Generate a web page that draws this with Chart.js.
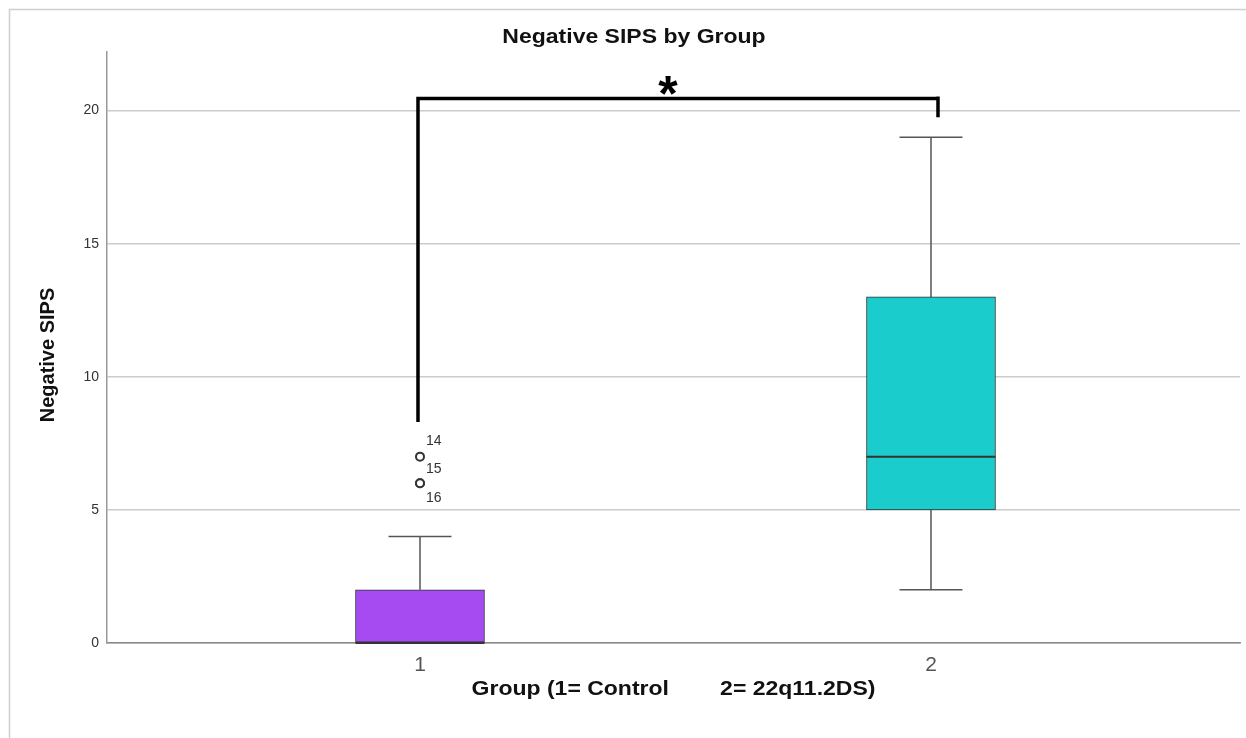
<!DOCTYPE html>
<html>
<head>
<meta charset="utf-8">
<script src="https://cdn.jsdelivr.net/npm/chart.js@4"></script>
<style>
  html, body { margin: 0; padding: 0; background: #fff; }
  #wrap { width: 1246px; height: 738px; position: relative; }
</style>
</head>
<body>
<div id="wrap"><canvas id="boxChart" width="1246" height="738"></canvas></div>
<script>
    // Data
    const groups = [1, 2];
    const groupLabels = ['1', '2'];
    const q1 = [0, 5];
    const medians = [0, 7];
    const q3 = [2, 13];
    const whiskerLow = [0, 2];
    const whiskerHigh = [4, 19];
    const outlierGroup = [1, 1, 1];
    const outlierValues = [7, 6, 6];
    const outlierIds = ['14', '15', '16'];
    const yTicks = [0, 5, 10, 15, 20];
    const boxColors = ['#A64AF2', '#1ACCCC'];

    const chartTitle = 'Negative SIPS by Group';
    const xTitle = 'Group (1= Control        2= 22q11.2DS)';
    const yTitle = 'Negative SIPS';

    // significance bracket (group 1 vs group 2)
    const bracketLeftBottom = 8.3;
    const bracketTop = 20.45;
    const bracketRightBottom = 19.75;

    const FONT = '"Liberation Sans", Arial, sans-serif';
    const STRETCH = 1.15; // the reference text is a bit wider than Arial

    // label offsets (px) for the outlier case numbers
    const idOffsets = [[6, -16], [6, -14], [6, 15]];

    function stretchedText(ctx, text, x, y) {
        ctx.save();
        ctx.translate(x, y);
        ctx.scale(STRETCH, 1);
        ctx.fillText(text, 0, 0);
        ctx.restore();
    }

    const extrasPlugin = {
        id: 'boxExtras',
        beforeDraw(chart) {
            const ctx = chart.ctx;
            ctx.save();
            ctx.fillStyle = '#fff';
            ctx.fillRect(0, 0, chart.width, chart.height);
            // frame of the figure
            ctx.strokeStyle = '#cfcfcf';
            ctx.lineWidth = 1.5;
            ctx.beginPath();
            ctx.moveTo(9.5, chart.height);
            ctx.lineTo(9.5, 9.5);
            ctx.lineTo(chart.width, 9.5);
            ctx.stroke();
            // titles
            const area = chart.chartArea;
            ctx.fillStyle = '#111';
            ctx.textAlign = 'center';
            ctx.textBaseline = 'middle';
            ctx.font = 'bold 20px ' + FONT;
            stretchedText(ctx, chartTitle, 634, 37);
            stretchedText(ctx, xTitle, (area.left + area.right) / 2, 689);
            ctx.save();
            ctx.translate(48, 355);
            ctx.rotate(-Math.PI / 2);
            ctx.fillText(yTitle, 0, 0);
            ctx.restore();
            ctx.restore();
        },
        beforeDatasetsDraw(chart) {
            const ctx = chart.ctx;
            const xs = chart.scales.x, ys = chart.scales.y;
            ctx.save();
            ctx.strokeStyle = '#555';
            ctx.lineWidth = 1.5;
            groups.forEach((g, i) => {
                const cx = xs.getPixelForValue(g);
                const capHalf = 31.5;
                const pairs = [[q3[i], whiskerHigh[i]], [q1[i], whiskerLow[i]]];
                pairs.forEach(([from, to]) => {
                    if (from === to) return;
                    ctx.beginPath();
                    ctx.moveTo(cx, ys.getPixelForValue(from));
                    ctx.lineTo(cx, ys.getPixelForValue(to));
                    ctx.moveTo(cx - capHalf, ys.getPixelForValue(to));
                    ctx.lineTo(cx + capHalf, ys.getPixelForValue(to));
                    ctx.stroke();
                });
            });
            ctx.restore();
        },
        afterDatasetsDraw(chart) {
            const ctx = chart.ctx;
            const xs = chart.scales.x, ys = chart.scales.y;
            ctx.save();
            // medians
            ctx.strokeStyle = '#333';
            ctx.lineWidth = 2;
            groups.forEach((g, i) => {
                const cx = xs.getPixelForValue(g);
                const y = ys.getPixelForValue(medians[i]);
                ctx.beginPath();
                ctx.moveTo(cx - 64.5, y);
                ctx.lineTo(cx + 64.5, y);
                ctx.stroke();
            });
            // outlier case numbers
            ctx.fillStyle = '#333';
            ctx.font = '14px ' + FONT;
            ctx.textAlign = 'left';
            ctx.textBaseline = 'middle';
            outlierIds.forEach((id, i) => {
                const px = xs.getPixelForValue(outlierGroup[i]);
                const py = ys.getPixelForValue(outlierValues[i]);
                ctx.fillText(id, px + idOffsets[i][0], py + idOffsets[i][1]);
            });
            // significance bracket
            const xl = xs.getPixelForValue(groups[0]) - 2;
            const xr = xs.getPixelForValue(groups[1]) + 7;
            const yt = ys.getPixelForValue(bracketTop);
            ctx.strokeStyle = '#000';
            ctx.lineWidth = 3.5;
            ctx.lineCap = 'butt';
            ctx.lineJoin = 'miter';
            ctx.beginPath();
            ctx.moveTo(xl, ys.getPixelForValue(bracketLeftBottom));
            ctx.lineTo(xl, yt);
            ctx.lineTo(xr, yt);
            ctx.moveTo(xr, yt - 2);
            ctx.lineTo(xr, ys.getPixelForValue(bracketRightBottom));
            ctx.stroke();
            ctx.fillStyle = '#000';
            ctx.font = 'bold 50px ' + FONT;
            ctx.textAlign = 'center';
            ctx.textBaseline = 'alphabetic';
            ctx.fillText('*', (xl + xr) / 2 - 10, yt + 12);
            ctx.restore();
        }
    };

    const ctx = document.getElementById('boxChart').getContext('2d');
    const boxChart = new Chart(ctx, {
        data: {
            datasets: [
                {
                    type: 'bar',
                    data: groups.map((g, i) => ({ x: g, y: [q1[i], q3[i]] })),
                    backgroundColor: boxColors,
                    borderColor: '#333',
                    borderWidth: 1,
                    borderSkipped: false,
                    barThickness: 129,
                    grouped: false,
                    order: 2
                },
                {
                    type: 'scatter',
                    data: outlierValues.map((v, i) => ({ x: outlierGroup[i], y: v })),
                    pointStyle: 'circle',
                    pointRadius: 4,
                    pointBackgroundColor: '#fff',
                    pointBorderColor: '#333',
                    pointBorderWidth: 2,
                    order: 1
                }
            ]
        },
        options: {
            responsive: false,
            animation: false,
            layout: { padding: { top: 52, right: 0, left: 0, bottom: 0 } },
            plugins: {
                legend: { display: false },
                title: { display: false },
                tooltip: { enabled: false }
            },
            scales: {
                x: {
                    type: 'linear',
                    offset: false,
                    min: 0.3875,
                    max: 2.6047,
                    afterBuildTicks: scale => { scale.ticks = groups.map(g => ({ value: g })); },
                    afterFit: scale => { scale.height = 95; },
                    ticks: {
                        callback: (v) => groupLabels[groups.indexOf(v)] || '',
                        color: '#555',
                        font: { family: FONT, size: 21 },
                        padding: 10,
                        maxRotation: 0
                    },
                    grid: { display: false, drawTicks: false },
                    border: { display: true, color: '#888', width: 1.5 }
                },
                y: {
                    min: 0,
                    max: 22.2,
                    afterBuildTicks: scale => { scale.ticks = yTicks.map(v => ({ value: v })); },
                    afterFit: scale => { scale.width = 107; },
                    ticks: {
                        color: '#333',
                        font: { family: FONT, size: 14 },
                        padding: 8
                    },
                    grid: { color: '#cccccc', lineWidth: 1.5, drawTicks: false },
                    border: { display: true, color: '#999', width: 1.5 }
                }
            }
        },
        plugins: [extrasPlugin]
    });
</script>
</body>
</html>
